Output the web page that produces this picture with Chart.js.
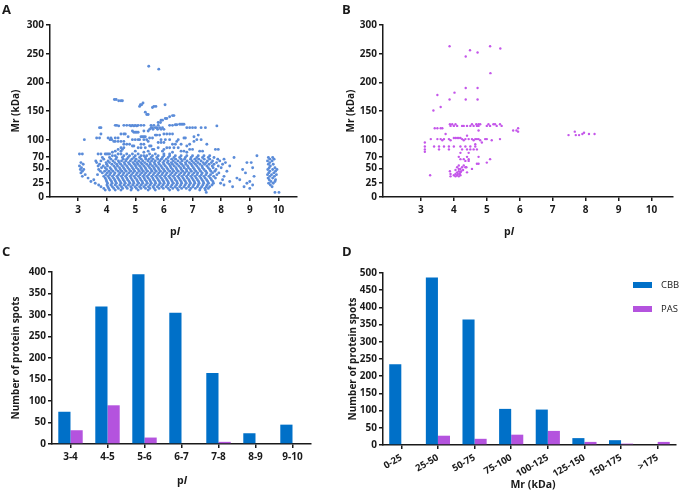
<!DOCTYPE html>
<html>
<head>
<meta charset="utf-8">
<script src="https://cdn.jsdelivr.net/npm/chart.js@4.4.1/dist/chart.umd.min.js"></script>
<style>
  body { margin: 0; background: #fff; }
  #wrap { position: relative; width: 680px; height: 491px; background: #fff; font-family: "Open Sans", "Liberation Sans", sans-serif; color: #1a1a1a; }
  canvas { position: absolute; }
  .letter { position: absolute; font-weight: 700; font-size: 13px; }
  .xt { position: absolute; font-weight: 700; font-size: 10.5px; width: 80px; margin-left: -40px; text-align: center; line-height: 12px; }
</style>
</head>
<body>
<div id="wrap">
  <canvas id="cA" width="340" height="240" style="left:0;top:0"></canvas>
  <canvas id="cB" width="340" height="240" style="left:340px;top:0"></canvas>
  <canvas id="cC" width="340" height="251" style="left:0;top:240px"></canvas>
  <canvas id="cD" width="340" height="251" style="left:340px;top:240px"></canvas>
  <div class="letter" style="left:2px;top:0">A</div>
  <div class="letter" style="left:342px;top:0">B</div>
  <div class="letter" style="left:2px;top:242px">C</div>
  <div class="letter" style="left:342px;top:242px">D</div>
  <div class="xt" style="left:175px;top:225px">p<i>I</i></div>
  <div class="xt" style="left:509px;top:225px">p<i>I</i></div>
  <div class="xt" style="left:182px;top:474px">p<i>I</i></div>
  <div class="xt" style="left:533px;top:478px">Mr (kDa)</div>
</div>
<script>
// tick labels
const pITicks = [3, 4, 5, 6, 7, 8, 9, 10];
const mrTicks = [0, 25, 50, 70, 100, 150, 200, 250, 300];

// A: CBB spots, rows of [Mr, [pI ...]]
const cbbSparse = [
  [228, [5.47]], [223, [5.82]],
  [170, [4.27, 4.33]], [168, [4.42, 4.5, 4.55]],
  [164, [5.27]], [161, [5.18, 5.22, 6.04]], [158, [5.15, 5.65, 5.72]], [156, [5.6]],
  [148, [5.35]], [144, [5.4, 5.45]], [142, [6.3, 6.35]], [140, [6.2]],
  [137, [6.05, 6.1]], [134, [5.9, 5.95]], [130, [5.8, 5.88]],
  [127, [6.55, 6.6, 6.65, 6.7]], [126, [6.4, 6.45]],
  [125, [4.3, 4.35, 4.6, 4.7, 4.8, 4.9, 5.0, 5.1, 5.2, 5.3, 5.55, 5.65, 5.8, 6.2, 6.3]],
  [124, [4.42, 4.85, 4.95, 5.05, 7.85]],
  [121, [3.75, 3.8, 5.55, 5.6, 5.7, 5.75, 5.85, 5.95, 6.8, 6.9, 7.0, 7.1, 7.3, 7.45]],
  [118, [5.5, 5.62, 5.78, 5.9, 6.0]],
  [115, [4.9, 5.3, 5.45]],
  [113, [4.95, 5.0, 5.05, 5.1]],
  [110, [3.8, 4.5, 4.6, 4.65, 6.0, 6.1, 6.2, 6.3]],
  [108, [5.7, 5.75, 5.85, 7.2]],
  [105, [4.75, 5.2, 5.25, 5.3, 5.35, 7.05]],
  [103, [3.65, 3.75, 4.05, 4.15, 4.3, 4.4, 5.5, 5.6, 6.7, 6.75]],
  [100, [3.22, 4.12, 4.18, 4.9, 5.0, 5.1, 5.15, 5.3, 5.4, 5.9, 6.05, 6.2, 6.5, 7.15, 7.3]],
  [97, [4.25, 4.3, 4.4, 4.5, 4.6, 5.45, 6.45, 7.05]],
  [95, [5.8, 5.9, 6.0]],
  [92, [4.6, 4.7, 4.8, 5.2, 5.3, 6.3, 6.4, 6.6, 6.9, 7.5]],
  [89, [4.9, 4.95, 5.5, 5.55, 6.8]],
  [86, [4.5, 4.6, 5.1, 5.2, 5.35, 5.8, 6.1, 6.2, 6.35, 6.5]],
  [83, [4.4, 4.55, 5.6, 5.65, 6.0, 6.9, 7.0, 7.8, 7.9]],
  [80, [4.3, 4.5, 5.0, 5.45, 5.95, 6.6, 6.7, 7.25, 7.35]],
  [78, [4.2, 5.3, 6.3, 6.8]],
  [75, [3.05, 3.15, 3.7, 3.8, 3.95, 4.0, 4.05, 4.1, 4.4, 4.5, 4.7, 4.9, 5.1, 5.5, 5.7, 6.0, 6.2]],
  [72, [4.2, 4.3, 4.6, 4.8, 5.0, 5.2, 5.3, 5.4, 5.6, 5.8, 6.0, 6.2, 6.4, 6.6, 6.8, 7.0, 7.2, 7.4, 7.6, 9.25]],
  [69, [3.85, 4.1, 4.35, 4.55, 4.75, 4.95, 5.15, 5.35, 5.55, 5.75, 5.95, 6.15, 6.35, 6.55, 6.75, 6.95, 7.15, 7.35, 7.55, 7.75, 8.45, 9.65, 9.8]]
];
const cbbDense = [
  [66, [3.9, 4.15, 4.32, 4.58, 4.7, 4.88, 5.03, 5.21, 5.37, 5.48, 5.62, 5.79, 5.91, 6.08, 6.27, 6.41, 6.6, 6.72, 6.93, 7.08, 7.22, 7.41, 7.6, 7.88, 8.1, 9.7, 9.85]],
  [63, [3.62, 3.8, 4.05, 4.22, 4.41, 4.52, 4.67, 4.83, 4.99, 5.12, 5.26, 5.44, 5.57, 5.7, 5.86, 6.01, 6.15, 6.33, 6.49, 6.64, 6.81, 6.98, 7.13, 7.3, 7.52, 7.7, 7.95, 9.62, 9.78]],
  [60, [3.1, 3.65, 3.98, 4.1, 4.28, 4.44, 4.61, 4.76, 4.92, 5.06, 5.19, 5.33, 5.51, 5.66, 5.81, 5.97, 6.12, 6.26, 6.4, 6.57, 6.75, 6.89, 7.04, 7.19, 7.37, 7.48, 7.66, 7.84, 8.15, 8.9, 9.05, 9.7]],
  [57, [3.18, 3.75, 4.0, 4.18, 4.35, 4.49, 4.64, 4.8, 4.97, 5.09, 5.24, 5.4, 5.53, 5.69, 5.84, 6.0, 6.18, 6.3, 6.46, 6.62, 6.77, 6.95, 7.1, 7.26, 7.42, 7.58, 7.75, 8.05, 9.65, 9.82]],
  [54, [3.05, 3.7, 3.88, 4.03, 4.25, 4.38, 4.55, 4.7, 4.86, 5.01, 5.15, 5.3, 5.46, 5.6, 5.74, 5.9, 6.05, 6.22, 6.36, 6.52, 6.68, 6.83, 6.99, 7.15, 7.33, 7.5, 7.69, 7.9, 8.3, 9.72]],
  [51, [3.12, 3.82, 3.95, 4.12, 4.3, 4.45, 4.59, 4.74, 4.9, 5.04, 5.2, 5.35, 5.5, 5.65, 5.8, 5.94, 6.1, 6.25, 6.42, 6.58, 6.71, 6.86, 7.03, 7.2, 7.35, 7.55, 7.72, 8.0, 9.1, 9.68, 9.88]],
  [48, [3.08, 3.2, 3.72, 4.0, 4.16, 4.33, 4.48, 4.63, 4.79, 4.94, 5.1, 5.23, 5.38, 5.55, 5.68, 5.83, 5.99, 6.14, 6.3, 6.45, 6.61, 6.78, 6.92, 7.07, 7.24, 7.4, 7.6, 7.82, 8.75, 9.63, 9.8, 9.95]],
  [45, [3.15, 3.78, 3.93, 4.08, 4.22, 4.4, 4.53, 4.68, 4.84, 4.98, 5.14, 5.28, 5.43, 5.58, 5.73, 5.88, 6.03, 6.2, 6.34, 6.5, 6.66, 6.8, 6.96, 7.12, 7.28, 7.46, 7.64, 7.78, 8.2, 9.7, 9.9]],
  [42, [3.1, 3.85, 4.02, 4.14, 4.29, 4.46, 4.6, 4.77, 4.92, 5.07, 5.22, 5.36, 5.52, 5.67, 5.82, 5.96, 6.11, 6.28, 6.43, 6.59, 6.73, 6.88, 7.05, 7.18, 7.34, 7.5, 7.7, 7.92, 8.85, 9.66, 9.84]],
  [39, [3.25, 3.68, 3.97, 4.11, 4.26, 4.42, 4.57, 4.71, 4.87, 5.03, 5.17, 5.32, 5.47, 5.63, 5.78, 5.93, 6.07, 6.23, 6.38, 6.54, 6.7, 6.85, 7.0, 7.16, 7.31, 7.47, 7.63, 7.85, 9.62, 9.76, 9.93]],
  [36, [3.15, 3.9, 4.05, 4.2, 4.36, 4.51, 4.66, 4.82, 4.96, 5.11, 5.27, 5.41, 5.57, 5.72, 5.86, 6.02, 6.17, 6.32, 6.48, 6.63, 6.79, 6.94, 7.09, 7.25, 7.4, 7.57, 7.74, 8.1, 9.15, 9.7, 9.86]],
  [33, [3.35, 3.95, 4.09, 4.24, 4.39, 4.55, 4.7, 4.85, 5.0, 5.16, 5.31, 5.45, 5.61, 5.76, 5.91, 6.06, 6.21, 6.37, 6.52, 6.67, 6.82, 6.98, 7.13, 7.29, 7.44, 7.62, 7.8, 8.55, 9.64, 9.8]],
  [30, [3.55, 3.98, 4.13, 4.28, 4.43, 4.58, 4.73, 4.89, 5.05, 5.19, 5.34, 5.5, 5.64, 5.8, 5.95, 6.1, 6.26, 6.4, 6.56, 6.71, 6.87, 7.02, 7.17, 7.33, 7.49, 7.66, 8.05, 8.65, 9.68, 9.9]],
  [27, [3.45, 4.0, 4.17, 4.31, 4.47, 4.62, 4.78, 4.93, 5.08, 5.24, 5.39, 5.53, 5.69, 5.84, 5.99, 6.14, 6.29, 6.45, 6.6, 6.75, 6.9, 7.06, 7.21, 7.37, 7.53, 7.71, 8.3, 9.0, 9.74, 9.88]],
  [24, [3.6, 4.03, 4.19, 4.34, 4.5, 4.65, 4.81, 4.95, 5.12, 5.26, 5.42, 5.56, 5.71, 5.87, 6.01, 6.16, 6.33, 6.47, 6.62, 6.78, 6.93, 7.08, 7.23, 7.39, 7.56, 7.73, 7.98, 8.9, 9.66, 9.82]],
  [21, [3.72, 4.01, 4.15, 4.3, 4.46, 4.61, 4.76, 4.91, 5.06, 5.21, 5.36, 5.52, 5.67, 5.82, 5.97, 6.13, 6.28, 6.44, 6.59, 6.74, 6.89, 7.04, 7.2, 7.36, 7.51, 7.68, 8.1, 9.1, 9.72]],
  [18, [3.8, 4.04, 4.2, 4.37, 4.52, 4.68, 4.84, 4.99, 5.15, 5.3, 5.46, 5.62, 5.77, 5.92, 6.08, 6.24, 6.39, 6.55, 6.7, 6.86, 7.01, 7.17, 7.32, 7.48, 7.6, 8.4, 8.8, 9.78]],
  [15, [3.9, 4.07, 4.25, 4.41, 4.56, 4.72, 4.88, 5.04, 5.2, 5.36, 5.51, 5.66, 5.83, 5.98, 6.15, 6.31, 6.46, 6.62, 6.78, 6.94, 7.1, 7.27, 7.43, 7.55, 9.0]],
  [12, [3.95, 4.1, 4.3, 4.5, 4.85, 5.1, 5.45, 5.7, 6.2, 6.5, 6.9, 7.25, 7.45]],
  [8, [7.48, 9.88, 10.02]]
];

// B: PAS spots, rows of [Mr, [pI ...]]
const pasRows = [
  [263, [3.87, 5.1]], [259, [5.41]], [256, [4.49]], [252, [4.72]], [245, [4.36]],
  [216, [5.11]], [190, [4.36, 4.72]], [182, [4.02]], [178, [3.5]],
  [170, [3.87, 4.36, 4.72]], [157, [3.6]], [151, [3.38]],
  [127, [3.88, 3.95, 4.05, 4.55, 4.68, 4.75, 4.8, 5.05, 5.2, 5.25, 5.4]],
  [124, [3.9, 4.0, 4.1, 4.25, 4.3, 4.4, 4.5, 4.6, 4.7, 4.75, 5.0, 5.1, 5.3, 5.45]],
  [120, [3.42, 3.5, 3.6, 3.65, 5.95]],
  [116, [4.75, 5.8, 5.9]], [114, [5.95, 7.67]], [112, [7.95]],
  [110, [3.75, 7.9, 8.1, 8.27]], [108, [7.48, 7.7, 7.8]], [107, [4.4]],
  [103, [4.0, 4.05, 4.1, 4.15, 4.2]],
  [101, [3.3, 3.5, 3.6, 3.7, 3.85, 4.25, 4.35, 4.45, 4.55, 4.65, 4.7, 4.75, 4.95, 5.0, 5.4]],
  [99, [3.65, 3.9, 4.3, 4.6, 4.8, 5.15]],
  [95, [3.12, 4.85]], [92, [4.65]],
  [88, [3.12, 3.4, 3.55, 3.7, 3.85, 4.0, 4.2, 4.35, 4.5, 4.65]],
  [83, [3.12, 3.55, 3.85, 4.25, 4.4, 4.5, 4.6, 4.7]],
  [79, [3.12]], [77, [4.2, 4.45]],
  [70, [4.15, 4.4, 4.75]], [66, [4.2, 4.3, 4.45, 5.1]], [63, [4.35, 4.45]],
  [60, [5.0]], [58, [4.7, 4.75]], [55, [4.15, 4.3]],
  [52, [4.1, 4.25, 4.35, 4.38]], [49, [4.15, 4.2, 4.55]], [47, [4.05, 4.28]],
  [45, [3.88, 4.15, 4.22]], [43, [4.1, 4.2, 4.4]], [40, [3.9, 4.05, 4.12, 4.18]],
  [38, [3.28, 4.0, 4.1, 4.2]], [36, [3.9, 4.05, 4.15]]
];

// C: spots per pI range
const pIRanges = ['3-4', '4-5', '5-6', '6-7', '7-8', '8-9', '9-10'];
const cbbByPI = [75, 320, 395, 305, 165, 25, 45];
const pasByPI = [32, 90, 15, 0, 5, 0, 0];

// D: spots per Mr range
const mrRanges = ['0-25', '25-50', '50-75', '75-100', '100-125', '125-150', '150-175', '>175'];
const cbbByMr = [235, 487, 365, 105, 103, 20, 14, 0];
const pasByMr = [0, 27, 18, 30, 41, 9, 4, 9];

const ink = '#1a1a1a';
const cbbBlue = '#0070c8';
const pasPurple = '#b453de';
const tickFont = { family: 'Open Sans', size: 10, weight: 'bold' };
const titleFont = { family: 'Open Sans', size: 10, weight: 'bold' };

function toPoints(rows) {
  const pts = [];
  rows.forEach(r => r[1].forEach(x => pts.push({ x: x, y: r[0] })));
  return pts;
}

function axisBase() {
  return {
    grid: { display: true, drawOnChartArea: false, drawTicks: true, tickLength: 4, color: ink, lineWidth: 1.5 },
    border: { display: true, color: ink, width: 1.5 },
    ticks: { color: ink, font: tickFont }
  };
}

function scatterChart(id, pts, color, radius, xMin, pad) {
  const x = axisBase();
  Object.assign(x, {
    type: 'linear', min: xMin, max: 10.65,
    afterBuildTicks: s => { s.ticks = pITicks.map(v => ({ value: v })); },
    afterFit: s => { s.height = 43; }
  });
  x.ticks.padding = 3;
  const y = axisBase();
  Object.assign(y, {
    min: 0, max: 300,
    afterBuildTicks: s => { s.ticks = mrTicks.map(v => ({ value: v })); },
    afterFit: s => { s.width = pad.w; },
    title: { display: true, text: 'Mr (kDa)', color: ink, font: titleFont, padding: { top: pad.t, bottom: 0 } }
  });
  y.ticks.padding = 2;
  return new Chart(document.getElementById(id), {
    type: 'scatter',
    data: { datasets: [{ data: pts, backgroundColor: color, borderWidth: 0, pointRadius: radius }] },
    options: {
      responsive: false, animation: false, devicePixelRatio: 1,
      layout: { padding: { left: 0, top: 25, right: pad.r, bottom: 0 } },
      plugins: { legend: { display: false }, tooltip: { enabled: false } },
      scales: { x: x, y: y }
    }
  });
}

scatterChart('cA', toPoints(cbbSparse.concat(cbbDense)), '#5b8cd9', 1.45, 2.02, { w: 50, t: 10, r: 43 });
scatterChart('cB', toPoints(pasRows), '#c456ea', 1.2, 1.85, { w: 43, t: 5, r: 7 });

const legendPlugin = {
  id: 'sideLegend',
  afterDraw(chart) {
    const ctx = chart.ctx;
    ctx.save();
    chart.data.datasets.forEach((ds, i) => {
      const y = 42 + i * 24;
      ctx.fillStyle = ds.backgroundColor;
      ctx.fillRect(293, y, 19, 6);
      ctx.fillStyle = ink;
      ctx.font = '9.5px "Open Sans"';
      ctx.textBaseline = 'middle';
      ctx.fillText(ds.label, 321, y + 3);
    });
    ctx.restore();
  }
};

function barChart(id, labels, cbb, pas, opts) {
  const x = axisBase();
  Object.assign(x, {
    afterFit: s => { s.height = opts.xh; }
  });
  x.grid.offset = false;
  x.ticks.padding = 3;
  x.ticks.minRotation = opts.rot;
  x.ticks.maxRotation = opts.rot;
  x.ticks.autoSkip = false;
  x.ticks.font = { family: 'Open Sans', size: opts.xfs, weight: 'bold' };
  const y = axisBase();
  Object.assign(y, {
    min: 0, max: opts.ymax,
    ticks: { color: ink, font: tickFont, stepSize: 50, padding: 2 },
    afterFit: s => { s.width = opts.yw; },
    title: { display: true, text: 'Number of protein spots', color: ink, font: titleFont, padding: { top: opts.yt, bottom: 0 } }
  });
  return new Chart(document.getElementById(id), {
    type: 'bar',
    data: {
      labels: labels,
      datasets: [
        { label: 'CBB', data: cbb, backgroundColor: cbbBlue, borderWidth: 0, barPercentage: 1, categoryPercentage: 0.66 },
        { label: 'PAS', data: pas, backgroundColor: pasPurple, borderWidth: 0, barPercentage: 1, categoryPercentage: 0.66 }
      ]
    },
    options: {
      responsive: false, animation: false, devicePixelRatio: 1,
      layout: { padding: { left: 0, top: opts.top, right: opts.right, bottom: 0 } },
      plugins: { legend: { display: false }, tooltip: { enabled: false } },
      scales: { x: x, y: y }
    },
    plugins: opts.legend ? [legendPlugin] : []
  });
}

barChart('cC', pIRanges, cbbByPI, pasByPI, { ymax: 400, yw: 52, yt: 10, xh: 47, top: 32, right: 29, rot: 0, xfs: 10 });
barChart('cD', mrRanges, cbbByMr, pasByMr, { ymax: 500, yw: 43, yt: 7, xh: 46, top: 33, right: 4, rot: 30, xfs: 9.5, legend: true });
</script>
</body>
</html>
